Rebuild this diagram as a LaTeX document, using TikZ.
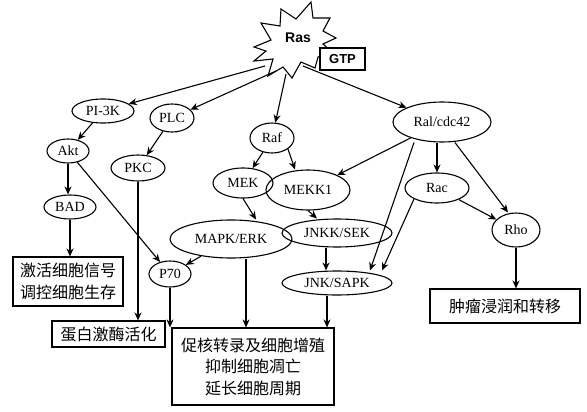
\documentclass[tikz,border=0pt]{standalone}
\usepackage{fontspec}
\setmainfont{Liberation Serif}
\newfontfamily\cjk{Noto Sans CJK SC}
\newfontfamily\hv{Liberation Sans}
\usetikzlibrary{shapes.geometric,arrows.meta}
\tikzset{
  oval/.style={draw, ellipse, inner sep=0pt, font=\fontsize{14}{16}\selectfont},
  res/.style={draw, rectangle, inner sep=0pt, align=center, font=\cjk\fontsize{16}{22}\selectfont},
}

\begin{document}
\begin{tikzpicture}[x=1pt,y=-1pt,line width=1.1pt,>={Stealth[length=8pt,width=7pt]}]
\useasboundingbox (0,0) rectangle (587,412);
      \draw [line join=miter] (254,47) -- (271,40) -- (261,23) -- (280,26) -- (281,9) -- (296,19)
        -- (311,2) -- (313,18) -- (330,18) -- (323,31) -- (336,38) -- (323,44) -- (332,52)
        -- (318,57) -- (315,68) -- (301,62) -- (292,78) -- (283,67) -- (268,76) -- (273,59)
        -- (254,61) -- (266,51) -- cycle;
      \node [font=\hv\bfseries\fontsize{14}{16}\selectfont] (ras) at (298,38) {Ras};
      \node [draw, fill=white, minimum width=45pt, minimum height=22pt, inner sep=0pt,
        font=\hv\bfseries\fontsize{13}{15}\selectfont] (gtp) at (342.5,59) {GTP};
      \coordinate (sa) at (265,66);
      \coordinate (sb) at (276,71);
      \coordinate (sc) at (286,74);
      \coordinate (sd) at (303,66);

      \node [oval, minimum width=62pt, minimum height=24pt] (pi3k) at (103,111) {PI-3K};
      \node [oval, minimum width=44pt, minimum height=28pt] (plc) at (172,118) {PLC};
      \node [oval, minimum width=42pt, minimum height=24pt] (akt) at (68,151) {Akt};
      \node [oval, minimum width=54pt, minimum height=26pt] (pkc) at (138,168) {PKC};
      \node [oval, minimum width=52pt, minimum height=24pt] (bad) at (70,207) {BAD};
      \node [oval, minimum width=44pt, minimum height=30pt] (raf) at (272,138) {Raf};
      \node [oval, minimum width=60pt, minimum height=30pt] (mek) at (243,183) {MEK};
      \node [oval, minimum width=84pt, minimum height=40pt] (mekk) at (308,190) {MEKK1};
      \node [oval, minimum width=122pt, minimum height=38pt] (mapk) at (231,239) {MAPK/ERK};
      \node [oval, minimum width=110pt, minimum height=28pt] (jnkk) at (337,233) {JNKK/SEK};
      \node [oval, minimum width=110pt, minimum height=24pt] (jnk) at (337,283) {JNK/SAPK};
      \node [oval, minimum width=42pt, minimum height=26pt] (p70) at (170,274) {P70};
      \node [oval, minimum width=98pt, minimum height=40pt] (ral) at (442,122) {Ral/cdc42};
      \node [oval, minimum width=64pt, minimum height=30pt] (rac) at (437,188) {Rac};
      \node [oval, minimum width=48pt, minimum height=34pt] (rho) at (516,230) {Rho};

      \node [res, minimum width=110pt, minimum height=49pt] (act) at (68,281.5) {激活细胞信号\\调控细胞生存};
      \node [res, minimum width=113pt, minimum height=26pt] (prot) at (108.5,334) {蛋白激酶活化};
      \node [res, minimum width=162pt, minimum height=77pt, font=\cjk\fontsize{16}{21.5}\selectfont] (nuc) at (253,366.5) {促核转录及细胞增殖\\抑制细胞凋亡\\延长细胞周期};
      \node [res, minimum width=150pt, minimum height=34pt] (tum) at (505,306) {肿瘤浸润和转移};

      \draw [->] (sa) -- (pi3k);
      \draw [->] (sb) -- (plc);
      \draw [->] (sc) -- (raf);
      \draw [->] (sd) -- (ral);
      \draw [->] (pi3k) -- (akt);
      \draw [->] (plc) -- (pkc);
      \draw [->] (akt) -- (akt |- bad.north);
      \draw [->] (bad) -- (bad |- act.north);
      \draw [->] (akt) -- (p70);
      \draw [->] (pkc) -- (pkc.south |- prot.north);
      \draw [->] (raf) -- (mek);
      \draw [->] (raf.south east) -- ([xshift=-13pt]mekk.north);
      \draw [->] (mek.south) -- ([xshift=25pt]mapk.north);
      \draw [->] (mekk.south) -- ([xshift=-20pt]jnkk.north);
      \draw [->] (mapk) -- (p70);
      \draw [->] ([xshift=-11pt]jnkk.south) -- ([xshift=-11pt]jnk.north);
      \draw [->] (ral) -- (mekk);
      \draw [->] ([xshift=-28pt]ral.south) -- ([xshift=33pt]jnk.north);
      \draw [->] (rac.south west) -- ([xshift=45pt]jnk.north);
      \draw [->] (rac |- ral.south) -- (rac.north);
      \draw [->] ([xshift=13pt]ral.south) -- ([xshift=-8pt]rho.north);
      \draw [->] (rac) -- (rho);
      \draw [->] (rho) -- (rho |- tum.north);
      \draw [->] (p70) -- (p70 |- nuc.north);
      \draw [->] ([xshift=15pt]mapk.south) -- ([xshift=15pt]mapk.south |- nuc.north);
      \draw [->] ([xshift=-10pt]jnk.south) -- ([xshift=-10pt]jnk.south |- nuc.north);
\end{tikzpicture}
\end{document}
